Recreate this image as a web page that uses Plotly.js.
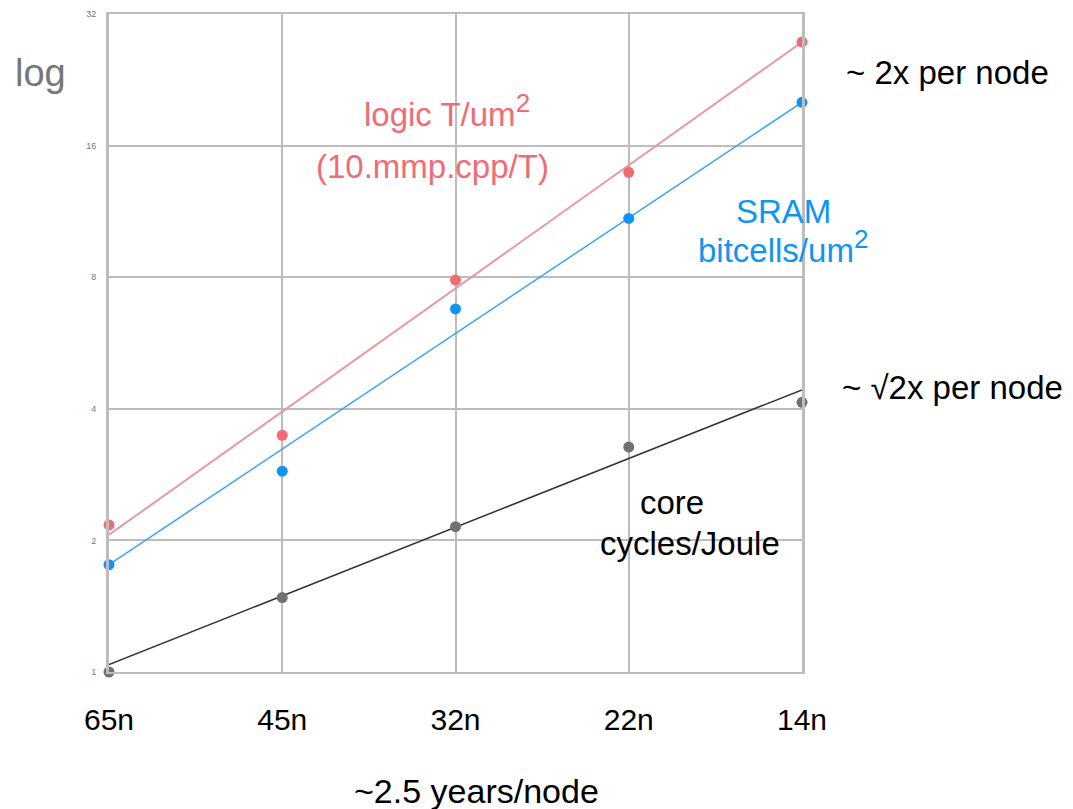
<!DOCTYPE html>
<html>
<head>
<meta charset="utf-8">
<script src="https://cdn.plot.ly/plotly-3.0.1.min.js"></script>
<style>html,body{margin:0;padding:0;background:#fff;}#chart{width:1073px;height:809px;}</style>
</head>
<body>
<div id="chart"></div>
<script>
const nodes = ["65n", "45n", "32n", "22n", "14n"];
const logicDensity = [2.17, 3.48, 7.88, 13.9, 27.6];
const sramDensity = [1.76, 2.88, 6.77, 10.9, 20.1];
const coreEfficiency = [1.0, 1.48, 2.15, 3.27, 4.14];
const logicTrend = [2.06, 27.6];
const sramTrend = [1.76, 20.1];
const coreTrend = [1.04, 4.42];
const yTicks = [1, 2, 4, 8, 16, 32];

const idx = nodes.map((_, i) => i);
const ends = [0, nodes.length - 1];
const sans = '"Liberation Sans", Arial, sans-serif';

const traces = [
  {x: ends, y: logicTrend, mode: 'lines', line: {color: '#e89a9e', width: 2}, hoverinfo: 'skip'},
  {x: ends, y: sramTrend, mode: 'lines', line: {color: '#3ea2ec', width: 1.5}, hoverinfo: 'skip'},
  {x: ends, y: coreTrend, mode: 'lines', line: {color: '#333333', width: 1.5}, hoverinfo: 'skip'},
  {x: idx, y: logicDensity, mode: 'markers', marker: {color: '#f26b73', size: 11}, cliponaxis: false},
  {x: idx, y: sramDensity, mode: 'markers', marker: {color: '#0e95f4', size: 11}, cliponaxis: false},
  {x: idx, y: coreEfficiency, mode: 'markers', marker: {color: '#717171', size: 11}, cliponaxis: false}
];

const px = v => (v - 109) / (802 - 109);
const py = v => (672 - v) / (672 - 14);
const ann = (text, x, y, color, size) => ({
  text, x: px(x), y: py(y), xref: 'paper', yref: 'paper', showarrow: false,
  font: {family: sans, size, color}, xanchor: 'center', yanchor: 'middle'
});

const layout = {
  width: 1073, height: 809,
  margin: {l: 109, r: 271, t: 14, b: 137},
  paper_bgcolor: '#ffffff', plot_bgcolor: '#ffffff',
  showlegend: false,
  xaxis: {
    range: [0, nodes.length - 1], tickvals: idx, ticktext: nodes,
    showgrid: true, gridcolor: '#bdbdbd', gridwidth: 2,
    zeroline: false, showline: true, linecolor: '#bdbdbd', linewidth: 2, mirror: true,
    ticks: '', ticklen: 0, tickfont: {family: sans, size: 30, color: '#000'},
    ticklabelstandoff: 20, fixedrange: true
  },
  yaxis: {
    type: 'log', range: [0, Math.log10(32)], tickvals: yTicks, ticktext: yTicks.map(String),
    showgrid: true, gridcolor: '#bdbdbd', gridwidth: 2,
    zeroline: false, showline: true, linecolor: '#bdbdbd', linewidth: 3, mirror: true,
    ticks: '', tickfont: {family: sans, size: 9, color: '#777'}, ticklabelstandoff: 8, fixedrange: true
  },
  annotations: [
    ann('log', 40, 73, '#777777', 38),
    ann('logic T/um<sup><span style="font-size:26px">2</span></sup>', 447, 110, '#f26b73', 33),
    ann('(10.mmp.cpp/T)', 432, 167, '#f26b73', 33),
    ann('SRAM', 783, 212, '#0e95f4', 33),
    ann('bitcells/um<sup><span style="font-size:26px">2</span></sup>', 783, 246, '#0e95f4', 33),
    ann('~ 2x per node', 948, 72, '#000000', 33),
    ann('~ √2x per node', 952, 387, '#000000', 33),
    ann('core', 672, 502, '#000000', 33),
    ann('cycles/Joule', 690, 543, '#000000', 33),
    ann('~2.5 years/node', 476, 791, '#000000', 34)
  ]
};

Plotly.newPlot('chart', traces, layout, {displayModeBar: false, staticPlot: true});
</script>
</body>
</html>
